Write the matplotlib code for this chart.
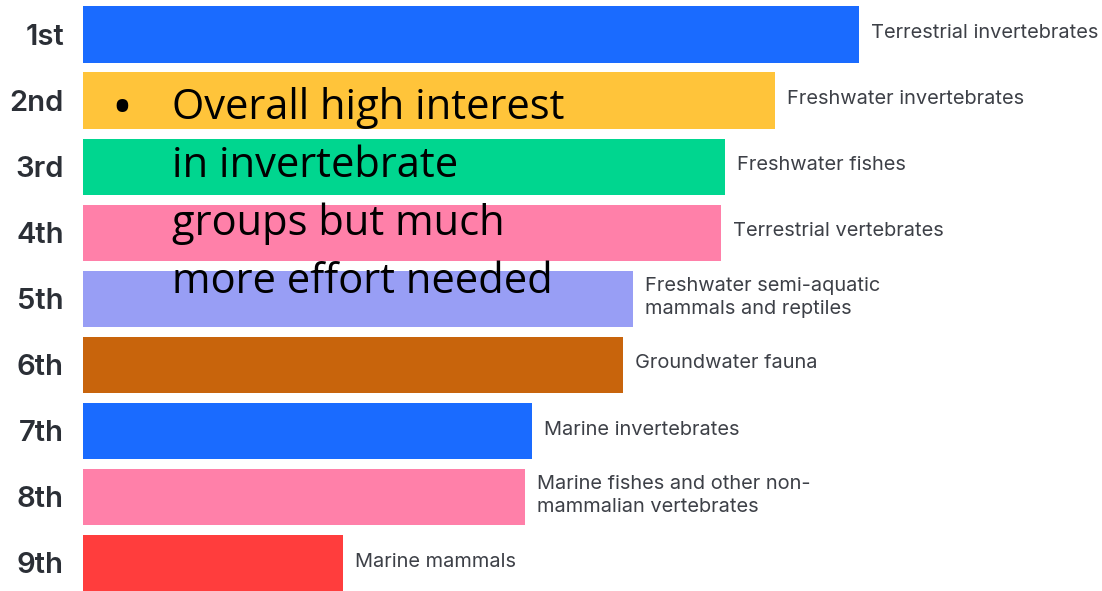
import numpy as np
import matplotlib.pyplot as plt

ranks = ['1st', '2nd', '3rd', '4th', '5th', '6th', '7th', '8th', '9th']
groups = ['Terrestrial invertebrates', 'Freshwater invertebrates', 'Freshwater fishes',
          'Terrestrial vertebrates', 'Freshwater semi-aquatic\nmammals and reptiles',
          'Groundwater fauna', 'Marine invertebrates',
          'Marine fishes and other non-\nmammalian vertebrates', 'Marine mammals']
scores = [776, 692, 642, 638, 550, 540, 449, 442, 260]
colors = ['#1a6bff', '#ffc43a', '#00d68f', '#ff80a9', '#989ef5',
          '#c8640c', '#1a6bff', '#ff80a9', '#ff3d3d']

note = ['Overall high interest', 'in invertebrate', 'groups but much', 'more effort needed']

fig = plt.figure(figsize=(11.02, 5.91), dpi=100)
ax = fig.add_axes([83/1102, 0, 1 - 83/1102, 1])

y = np.arange(len(ranks))
ax.barh(y, scores, height=0.85, color=colors)
ax.set_xlim(0, 1019)
ax.set_ylim(8.424, -0.522)
ax.axis('off')

for i, (r, g, s) in enumerate(zip(ranks, groups, scores)):
    ax.text(-19, i + 0.04, r, ha='right', va='center', fontsize=21, fontweight='semibold',
            color='#2b2f36', family='Inter')
    ax.text(s + 12, i - 0.02, g, ha='left', va='center', fontsize=14.4, color='#3d4047',
            family='Inter', linespacing=1.35)

# callout text over the upper bars
fig.text(111/1102, 1 - 112/591, '\u2022', fontsize=40, va='center', ha='left',
         color='black', family='Open Sans')
for k, line in enumerate(note):
    fig.text(172/1102, 1 - (108 + 58*k)/591, line, fontsize=30, va='center', ha='left',
             color='black', family='Open Sans')

fig.savefig('out.png', dpi=100)
